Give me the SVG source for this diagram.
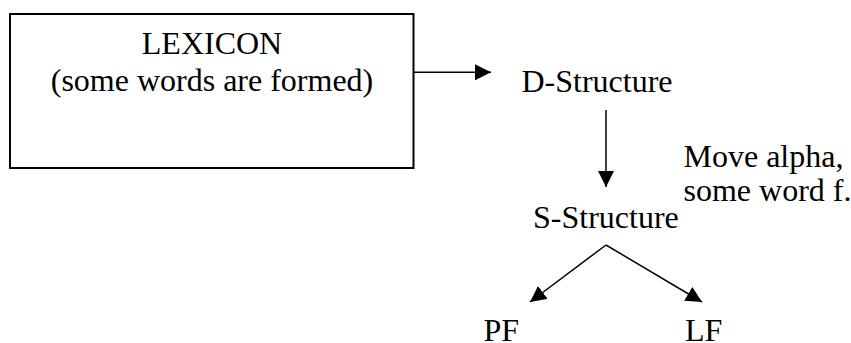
<svg xmlns="http://www.w3.org/2000/svg" width="851" height="343" viewBox="0 0 851 343">
<style>
text{font-family:'Liberation Serif','Times New Roman','DejaVu Serif',serif;font-size:32px;fill:#000}
.c{text-anchor:middle}
.box{fill:#fff;stroke:#000;stroke-width:2}
.ln{stroke:#000;stroke-width:1.5;fill:none;marker-end:url(#ah)}
</style>
<defs>
<marker id="ah" markerUnits="userSpaceOnUse" markerWidth="16" markerHeight="16" refX="16" refY="8" orient="auto" viewBox="0 0 16 16">
<path d="M0,0 L16,8 L0,16 z" fill="#000"/>
</marker>
</defs>
<rect width="851" height="343" fill="#fff"/>
<g font-family="Liberation Serif, Times New Roman, serif" font-size="32">
<g id="lexicon">
<rect class="box" x="10" y="14" width="403.5" height="154"/>
<text class="c" x="212" y="54">LEXICON</text>
<text class="c" x="212" y="91">(some words are formed)</text>
</g>
<g id="dstructure"><text x="521.5" y="92">D-Structure</text></g>
<g id="sstructure"><text x="533" y="227.5">S-Structure</text></g>
<g id="note"><text x="683.5" y="167.3">Move alpha,</text><text x="683.5" y="200.7">some word f.</text></g>
<g id="pf"><text x="483.5" y="341">PF</text></g>
<g id="lf"><text x="685" y="341">LF</text></g>
</g>
<g id="connectors">
<line class="ln" x1="414" y1="72.3" x2="491" y2="72.3"/>
<line class="ln" x1="606" y1="110" x2="606" y2="187"/>
<line class="ln" x1="606" y1="245" x2="530" y2="302"/>
<line class="ln" x1="606" y1="245" x2="702" y2="302"/>
</g>
</svg>
